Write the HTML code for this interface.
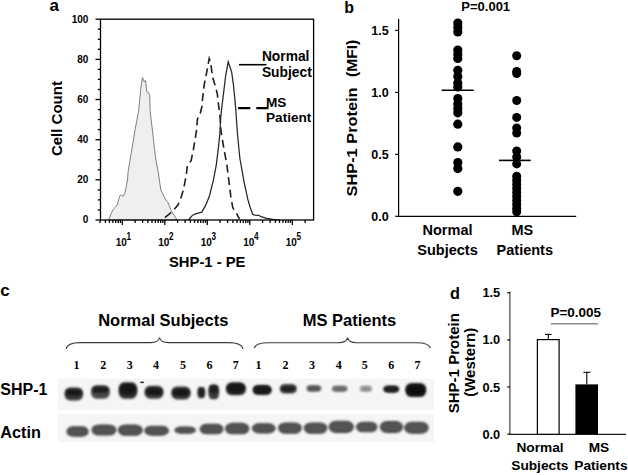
<!DOCTYPE html>
<html><head><meta charset="utf-8"><style>
html,body{margin:0;padding:0;background:#fff;}
svg{display:block;}
svg{font-family:"Liberation Sans", sans-serif;}
</style></head><body>
<svg width="628" height="475" viewBox="0 0 628 475">
<text x="49.6" y="10.8" font-size="17" font-weight="bold">a</text>
<path d="M108.5,220 L109.8,217.2 L111.5,212.7 L113.3,209.2 L115.5,207 L117.3,204.8 L118.6,199.5 L119.9,195.5 L121.3,195 L123,196.4 L124.8,193.3 L126.1,187.1 L127.5,180 L128.1,171.7 L131.6,150.9 L135,130.1 L138.5,111.6 L140.8,88.5 L142.4,77.3 L144.1,81.6 L145.5,80.5 L146.8,92 L148.8,92.8 L149.7,95.4 L150.2,111.6 L152.4,130.1 L154.7,150.9 L156.2,162 L158.2,171.7 L160.8,190 L165.3,199 L168,202.6 L171.6,211.6 L177.2,220 Z" fill="#efefef" stroke="#808080" stroke-width="1"/>
<path d="M165,217.6 L166,216.7 L169.8,213.6 L175.2,208.3 L178.2,204.5 L181.2,197 L183.5,189.4 L185,181.8 L186.5,173.5 L187.3,165.9 L191.1,160.6 L193.3,150 L196.6,130 L197.4,119 L199.6,115.7 L201.8,107.3 L202.4,100.5 L204.1,85.4 L206.8,71.9 L209.2,58.4 L210.5,61.8 L211.9,71.9 L213,78.6 L215.6,87 L217.3,93.8 L218.6,105.6 L219.8,114 L221.1,131.9 L224,149.3 L226.9,164.8 L228.8,180.2 L230.7,195.7 L232.7,207.3 L234.6,211.2 L237,214.2 L238.2,216.7 L239.5,219" fill="none" stroke="#1e1e1e" stroke-width="1.6" stroke-dasharray="8,4.6"/>
<path d="M188.5,220 L190.5,217.5 L192.6,215.2 L195,214.2 L198,213.2 L201.8,212.1 L205.6,205.4 L209.5,195.7 L213.4,180.2 L216.3,164.8 L218.2,149.3 L219.7,135.8 L220.6,119 L222,105.6 L223.7,92.1 L225.7,75.3 L228.2,61.8 L229.9,66.8 L231.6,71.9 L233.3,83.7 L235,100.5 L235.8,110 L237.5,134.2 L239.9,158.5 L244.2,182.7 L247.9,199.7 L250.2,207.5 L252.7,214.2 L254.6,215.1 L258.5,215.3 L261,216.6 L266.8,218.4 L273,219.3 L280,220" fill="none" stroke="#262626" stroke-width="1.25"/>
<g stroke="#000" stroke-width="1.3" fill="none">
<rect x="100.5" y="19.2" width="213.1" height="200.8"/>
<line x1="95.5" y1="220.0" x2="100.5" y2="220.0"/>
<line x1="97.8" y1="210.0" x2="100.5" y2="210.0"/>
<line x1="97.8" y1="199.9" x2="100.5" y2="199.9"/>
<line x1="97.8" y1="189.9" x2="100.5" y2="189.9"/>
<line x1="95.5" y1="179.8" x2="100.5" y2="179.8"/>
<line x1="97.8" y1="169.8" x2="100.5" y2="169.8"/>
<line x1="97.8" y1="159.8" x2="100.5" y2="159.8"/>
<line x1="97.8" y1="149.7" x2="100.5" y2="149.7"/>
<line x1="95.5" y1="139.7" x2="100.5" y2="139.7"/>
<line x1="97.8" y1="129.6" x2="100.5" y2="129.6"/>
<line x1="97.8" y1="119.6" x2="100.5" y2="119.6"/>
<line x1="97.8" y1="109.6" x2="100.5" y2="109.6"/>
<line x1="95.5" y1="99.5" x2="100.5" y2="99.5"/>
<line x1="97.8" y1="89.5" x2="100.5" y2="89.5"/>
<line x1="97.8" y1="79.4" x2="100.5" y2="79.4"/>
<line x1="97.8" y1="69.4" x2="100.5" y2="69.4"/>
<line x1="95.5" y1="59.4" x2="100.5" y2="59.4"/>
<line x1="97.8" y1="49.3" x2="100.5" y2="49.3"/>
<line x1="97.8" y1="39.3" x2="100.5" y2="39.3"/>
<line x1="97.8" y1="29.2" x2="100.5" y2="29.2"/>
<line x1="95.5" y1="19.2" x2="100.5" y2="19.2"/>
<line x1="100.1" y1="220" x2="100.1" y2="222.9"/>
<line x1="105.4" y1="220" x2="105.4" y2="222.9"/>
<line x1="109.5" y1="220" x2="109.5" y2="222.9"/>
<line x1="112.9" y1="220" x2="112.9" y2="222.9"/>
<line x1="115.7" y1="220" x2="115.7" y2="222.9"/>
<line x1="118.2" y1="220" x2="118.2" y2="222.9"/>
<line x1="120.4" y1="220" x2="120.4" y2="222.9"/>
<line x1="122.3" y1="220" x2="122.3" y2="225"/>
<line x1="135.1" y1="220" x2="135.1" y2="222.9"/>
<line x1="142.6" y1="220" x2="142.6" y2="222.9"/>
<line x1="147.9" y1="220" x2="147.9" y2="222.9"/>
<line x1="152.0" y1="220" x2="152.0" y2="222.9"/>
<line x1="155.4" y1="220" x2="155.4" y2="222.9"/>
<line x1="158.2" y1="220" x2="158.2" y2="222.9"/>
<line x1="160.7" y1="220" x2="160.7" y2="222.9"/>
<line x1="162.9" y1="220" x2="162.9" y2="222.9"/>
<line x1="164.8" y1="220" x2="164.8" y2="225"/>
<line x1="177.6" y1="220" x2="177.6" y2="222.9"/>
<line x1="185.1" y1="220" x2="185.1" y2="222.9"/>
<line x1="190.4" y1="220" x2="190.4" y2="222.9"/>
<line x1="194.5" y1="220" x2="194.5" y2="222.9"/>
<line x1="197.9" y1="220" x2="197.9" y2="222.9"/>
<line x1="200.7" y1="220" x2="200.7" y2="222.9"/>
<line x1="203.2" y1="220" x2="203.2" y2="222.9"/>
<line x1="205.4" y1="220" x2="205.4" y2="222.9"/>
<line x1="207.3" y1="220" x2="207.3" y2="225"/>
<line x1="220.1" y1="220" x2="220.1" y2="222.9"/>
<line x1="227.6" y1="220" x2="227.6" y2="222.9"/>
<line x1="232.9" y1="220" x2="232.9" y2="222.9"/>
<line x1="237.0" y1="220" x2="237.0" y2="222.9"/>
<line x1="240.4" y1="220" x2="240.4" y2="222.9"/>
<line x1="243.2" y1="220" x2="243.2" y2="222.9"/>
<line x1="245.7" y1="220" x2="245.7" y2="222.9"/>
<line x1="247.9" y1="220" x2="247.9" y2="222.9"/>
<line x1="249.8" y1="220" x2="249.8" y2="225"/>
<line x1="262.6" y1="220" x2="262.6" y2="222.9"/>
<line x1="270.1" y1="220" x2="270.1" y2="222.9"/>
<line x1="275.4" y1="220" x2="275.4" y2="222.9"/>
<line x1="279.5" y1="220" x2="279.5" y2="222.9"/>
<line x1="282.9" y1="220" x2="282.9" y2="222.9"/>
<line x1="285.7" y1="220" x2="285.7" y2="222.9"/>
<line x1="288.2" y1="220" x2="288.2" y2="222.9"/>
<line x1="290.4" y1="220" x2="290.4" y2="222.9"/>
<line x1="292.3" y1="220" x2="292.3" y2="225"/>
<line x1="305.1" y1="220" x2="305.1" y2="222.9"/>
</g>
<text x="88.4" y="223.3" font-size="10" font-weight="bold" text-anchor="end">0</text>
<text x="88.4" y="183.1" font-size="10" font-weight="bold" text-anchor="end">20</text>
<text x="88.4" y="143.0" font-size="10" font-weight="bold" text-anchor="end">40</text>
<text x="88.4" y="102.8" font-size="10" font-weight="bold" text-anchor="end">60</text>
<text x="88.4" y="62.7" font-size="10" font-weight="bold" text-anchor="end">80</text>
<text x="88.4" y="22.5" font-size="10" font-weight="bold" text-anchor="end">100</text>
<text x="115.8" y="245.7" font-size="10" font-weight="bold">10</text>
<text transform="translate(126.6,239.6) scale(0.82,1)" font-size="10" font-weight="bold">1</text>
<text x="158.3" y="245.7" font-size="10" font-weight="bold">10</text>
<text transform="translate(169.1,239.6) scale(0.82,1)" font-size="10" font-weight="bold">2</text>
<text x="200.8" y="245.7" font-size="10" font-weight="bold">10</text>
<text transform="translate(211.6,239.6) scale(0.82,1)" font-size="10" font-weight="bold">3</text>
<text x="243.3" y="245.7" font-size="10" font-weight="bold">10</text>
<text transform="translate(254.1,239.6) scale(0.82,1)" font-size="10" font-weight="bold">4</text>
<text x="285.8" y="245.7" font-size="10" font-weight="bold">10</text>
<text transform="translate(296.6,239.6) scale(0.82,1)" font-size="10" font-weight="bold">5</text>
<text x="207.2" y="267.2" font-size="14.8" font-weight="bold" text-anchor="middle">SHP-1 - PE</text>
<text transform="translate(61.8,118.6) rotate(-90)" font-size="15" font-weight="bold" text-anchor="middle">Cell Count</text>
<line x1="239" y1="64.7" x2="266.5" y2="64.7" stroke="#000" stroke-width="1.6"/>
<line x1="238.1" y1="108.1" x2="268.6" y2="108.1" stroke="#000" stroke-width="2.2" stroke-dasharray="12.2,6"/>
<text x="261.9" y="61.4" font-size="13.8" font-weight="bold">Normal</text>
<text x="261.9" y="76.6" font-size="13.8" font-weight="bold">Subject</text>
<text x="266" y="106.7" font-size="13.6" font-weight="bold">MS</text>
<text x="266" y="122.4" font-size="13.6" font-weight="bold">Patient</text>
<text x="344.3" y="13.4" font-size="16" font-weight="bold">b</text>
<text x="485.7" y="11.2" font-size="13" font-weight="bold" text-anchor="middle">P=0.001</text>
<g stroke="#000" stroke-width="1.2">
<line x1="398.6" y1="19" x2="398.6" y2="216.3"/>
<line x1="398" y1="216.4" x2="576.2" y2="216.4"/>
<line x1="395.2" y1="216.3" x2="398.6" y2="216.3"/>
<line x1="395.2" y1="154.4" x2="398.6" y2="154.4"/>
<line x1="395.2" y1="92.4" x2="398.6" y2="92.4"/>
<line x1="395.2" y1="30.4" x2="398.6" y2="30.4"/>
</g>
<text x="388.6" y="220.9" font-size="12.5" font-weight="bold" text-anchor="end">0.0</text>
<text x="388.6" y="159.0" font-size="12.5" font-weight="bold" text-anchor="end">0.5</text>
<text x="388.6" y="97.0" font-size="12.5" font-weight="bold" text-anchor="end">1.0</text>
<text x="388.6" y="35.0" font-size="12.5" font-weight="bold" text-anchor="end">1.5</text>
<text transform="translate(356.6,196.4) rotate(-90) scale(1.09,1)" font-size="15" font-weight="bold">SHP-1 Protein</text>
<text transform="translate(356.6,77) rotate(-90) scale(1.04,1)" font-size="15" font-weight="bold">(MFI)</text>
<circle cx="457.8" cy="23" r="4.6"/>
<circle cx="457.8" cy="27.5" r="4.6"/>
<circle cx="457.8" cy="32" r="4.6"/>
<circle cx="457.8" cy="50" r="4.6"/>
<circle cx="457.8" cy="54.5" r="4.6"/>
<circle cx="457.8" cy="58.5" r="4.6"/>
<circle cx="457.8" cy="70.3" r="4.6"/>
<circle cx="457.8" cy="76.5" r="4.6"/>
<circle cx="457.8" cy="83" r="4.6"/>
<circle cx="457.8" cy="87" r="4.6"/>
<circle cx="457.8" cy="98.5" r="4.6"/>
<circle cx="457.8" cy="104" r="4.6"/>
<circle cx="457.8" cy="108.5" r="4.6"/>
<circle cx="457.8" cy="112.8" r="4.6"/>
<circle cx="457.8" cy="124.2" r="4.6"/>
<circle cx="457.8" cy="146.9" r="4.6"/>
<circle cx="457.8" cy="162.6" r="4.6"/>
<circle cx="457.8" cy="168.6" r="4.6"/>
<circle cx="457.8" cy="191.3" r="4.6"/>
<circle cx="516.7" cy="55.7" r="4.5"/>
<circle cx="516.7" cy="71.5" r="4.5"/>
<circle cx="516.7" cy="73.5" r="4.5"/>
<circle cx="516.7" cy="100.5" r="4.5"/>
<circle cx="516.7" cy="117.4" r="4.5"/>
<circle cx="516.7" cy="128" r="4.5"/>
<circle cx="516.7" cy="133" r="4.5"/>
<circle cx="516.7" cy="151" r="4.5"/>
<circle cx="516.7" cy="157" r="4.5"/>
<circle cx="516.7" cy="163.9" r="4.5"/>
<circle cx="516.7" cy="176.3" r="4.5"/>
<circle cx="516.7" cy="180.3" r="4.5"/>
<circle cx="516.7" cy="184.3" r="4.5"/>
<circle cx="516.7" cy="188.3" r="4.5"/>
<circle cx="516.7" cy="192.3" r="4.5"/>
<circle cx="516.7" cy="196.3" r="4.5"/>
<circle cx="516.7" cy="200.3" r="4.5"/>
<circle cx="516.7" cy="204.3" r="4.5"/>
<circle cx="516.7" cy="208.3" r="4.5"/>
<circle cx="516.7" cy="211.7" r="4.5"/>
<line x1="441.6" y1="90.3" x2="473.8" y2="90.3" stroke="#000" stroke-width="1.6"/>
<line x1="499" y1="160.4" x2="530.7" y2="160.4" stroke="#000" stroke-width="1.6"/>
<text x="447.5" y="234.8" font-size="14.5" font-weight="bold" text-anchor="middle">Normal</text>
<text x="447.5" y="254.5" font-size="14.5" font-weight="bold" text-anchor="middle">Subjects</text>
<text x="522.3" y="235" font-size="14.5" font-weight="bold" text-anchor="middle">MS</text>
<text x="524.8" y="254.5" font-size="14.5" font-weight="bold" text-anchor="middle">Patients</text>
<text x="0.3" y="296.2" font-size="17" font-weight="bold">c</text>
<text x="163.3" y="325.5" font-size="16.5" font-weight="bold" text-anchor="middle">Normal Subjects</text>
<text x="349.5" y="325.5" font-size="16.5" font-weight="bold" text-anchor="middle">MS Patients</text>
<path d="M66.1,349 C67.0,344.5 72.1,342.6 80.1,342.6 L150.5,342.6 C156.0,342.6 158.7,341.1 159.5,337.5 C160.3,341.1 163.0,342.6 168.5,342.6 L229,342.6 C237,342.6 242.1,344.5 243,349" fill="none" stroke="#3a3a3a" stroke-width="1.15"/>
<path d="M254.3,348 C255.20000000000002,344.6 260.3,342.70000000000005 268.3,342.70000000000005 L338.6,342.70000000000005 C344.1,342.70000000000005 346.8,341.20000000000005 347.6,337.6 C348.40000000000003,341.20000000000005 351.1,342.70000000000005 356.6,342.70000000000005 L416.4,342.70000000000005 C424.4,342.70000000000005 429.5,344.6 430.4,348" fill="none" stroke="#3a3a3a" stroke-width="1.15"/>
<text x="76.4" y="368.5" font-family='"Liberation Serif", serif' font-size="12" font-weight="bold" text-anchor="middle">1</text>
<text x="103.3" y="368.5" font-family='"Liberation Serif", serif' font-size="12" font-weight="bold" text-anchor="middle">2</text>
<text x="129.8" y="368.5" font-family='"Liberation Serif", serif' font-size="12" font-weight="bold" text-anchor="middle">3</text>
<text x="156" y="368.5" font-family='"Liberation Serif", serif' font-size="12" font-weight="bold" text-anchor="middle">4</text>
<text x="182.9" y="368.5" font-family='"Liberation Serif", serif' font-size="12" font-weight="bold" text-anchor="middle">5</text>
<text x="209.4" y="368.5" font-family='"Liberation Serif", serif' font-size="12" font-weight="bold" text-anchor="middle">6</text>
<text x="235.7" y="368.5" font-family='"Liberation Serif", serif' font-size="12" font-weight="bold" text-anchor="middle">7</text>
<text x="258.6" y="368.5" font-family='"Liberation Serif", serif' font-size="12" font-weight="bold" text-anchor="middle">1</text>
<text x="285.4" y="368.5" font-family='"Liberation Serif", serif' font-size="12" font-weight="bold" text-anchor="middle">2</text>
<text x="311.9" y="368.5" font-family='"Liberation Serif", serif' font-size="12" font-weight="bold" text-anchor="middle">3</text>
<text x="338.7" y="368.5" font-family='"Liberation Serif", serif' font-size="12" font-weight="bold" text-anchor="middle">4</text>
<text x="364.7" y="368.5" font-family='"Liberation Serif", serif' font-size="12" font-weight="bold" text-anchor="middle">5</text>
<text x="391.2" y="368.5" font-family='"Liberation Serif", serif' font-size="12" font-weight="bold" text-anchor="middle">6</text>
<text x="417.5" y="368.5" font-family='"Liberation Serif", serif' font-size="12" font-weight="bold" text-anchor="middle">7</text>
<text x="0.3" y="395.4" font-size="16" font-weight="bold">SHP-1</text>
<text x="0.3" y="438.4" font-size="16.3" font-weight="bold">Actin</text>
<rect x="58" y="378.5" width="376" height="31.5" fill="#f5f5f5"/>
<rect x="58" y="413.5" width="376" height="28.5" fill="#f5f5f5"/>
<defs><filter id="bl" x="-30%" y="-50%" width="160%" height="200%"><feGaussianBlur stdDeviation="1.3"/></filter></defs>
<defs><filter id="bl2" x="-30%" y="-60%" width="160%" height="220%"><feGaussianBlur stdDeviation="0.8"/></filter><linearGradient id="gd" x1="0" y1="0" x2="0" y2="1"><stop offset="0" stop-color="#1a1a1a"/><stop offset="0.5" stop-color="#202020"/><stop offset="1" stop-color="#777"/></linearGradient><linearGradient id="gd2" x1="0" y1="0" x2="0" y2="1"><stop offset="0" stop-color="#1a1a1a"/><stop offset="0.45" stop-color="#1e1e1e"/><stop offset="1" stop-color="#8a8a8a"/></linearGradient></defs>
<defs><filter id="bh" x="-40%" y="-80%" width="180%" height="260%"><feGaussianBlur stdDeviation="1.1"/></filter><filter id="bc" x="-40%" y="-80%" width="180%" height="260%"><feGaussianBlur stdDeviation="1.0"/></filter></defs>
<g filter="url(#bh)">
<rect x="64.5" y="387.6" width="18.6" height="12.8" rx="5.6" ry="5.9" fill="#3a3a3a"/>
<rect x="91.0" y="385.3" width="18.9" height="13.5" rx="5.7" ry="6.2" fill="#4a4a4a"/>
<rect x="118.5" y="382.2" width="18.9" height="16.6" rx="5.7" ry="7.6" fill="#333"/>
<rect x="144.5" y="385.7" width="19.0" height="13.0" rx="5.8" ry="5.9" fill="#3a3a3a"/>
<rect x="171.3" y="386.6" width="19.4" height="12.9" rx="5.9" ry="5.9" fill="#3a3a3a"/>
<rect x="197.4" y="387.1" width="7.8" height="11.1" rx="2.4" ry="5.1" fill="#333"/>
<rect x="208.3" y="384.4" width="10.9" height="14.8" rx="3.3" ry="6.8" fill="#3a3a3a"/>
<rect x="225.9" y="382.2" width="20.0" height="13.0" rx="6.1" ry="5.9" fill="#2e2e2e"/>
<rect x="252.7" y="384.9" width="19.0" height="10.1" rx="5.8" ry="4.6" fill="#262626"/>
<rect x="279.8" y="384.1" width="16.9" height="9.3" rx="5.1" ry="4.3" fill="#444"/>
<rect x="306.4" y="384.9" width="14.9" height="6.9" rx="4.5" ry="3.2" fill="#777"/>
<rect x="331.8" y="385.4" width="15.8" height="6.5" rx="4.8" ry="3.0" fill="#888"/>
<rect x="359.7" y="385.4" width="12.4" height="6.5" rx="3.8" ry="3.0" fill="#aaa"/>
<rect x="383.3" y="385.4" width="15.9" height="7.4" rx="4.8" ry="3.4" fill="#333"/>
<rect x="405.3" y="382.9" width="20.9" height="14.1" rx="6.3" ry="6.4" fill="#222"/>
</g><g filter="url(#bc)">
<rect x="66.0" y="389.4" width="15.6" height="6.1" rx="4.7" ry="2.7" fill="#161616"/>
<rect x="92.5" y="386.8" width="15.9" height="5.9" rx="4.8" ry="2.7" fill="#1a1a1a"/>
<rect x="120.0" y="384.1" width="15.9" height="10.6" rx="4.8" ry="4.8" fill="#161616"/>
<rect x="146.0" y="388.2" width="16.0" height="6.9" rx="4.8" ry="3.1" fill="#161616"/>
<rect x="172.8" y="389.1" width="16.4" height="6.8" rx="4.9" ry="3.1" fill="#161616"/>
<rect x="198.9" y="389.3" width="4.8" height="6.2" rx="2.0" ry="2.8" fill="#1a1a1a"/>
<rect x="209.8" y="385.8" width="7.9" height="7.5" rx="2.8" ry="3.4" fill="#1a1a1a"/>
<rect x="227.4" y="384.1" width="17.0" height="8.6" rx="5.0" ry="3.9" fill="#161616"/>
<rect x="254.2" y="386.3" width="16.0" height="6.7" rx="4.8" ry="3.0" fill="#121212"/>
<rect x="281.3" y="386.4" width="13.9" height="4.8" rx="4.3" ry="2.1" fill="#1e1e1e"/>
<rect x="307.9" y="386.6" width="11.9" height="3.9" rx="3.8" ry="1.8" fill="#505050"/>
<rect x="333.3" y="387.0" width="12.8" height="3.7" rx="4.0" ry="1.7" fill="#666"/>
<rect x="361.2" y="387.0" width="9.4" height="3.7" rx="3.1" ry="1.7" fill="#8a8a8a"/>
<rect x="384.8" y="386.8" width="12.9" height="4.6" rx="4.0" ry="2.1" fill="#1a1a1a"/>
<rect x="406.8" y="384.9" width="17.9" height="10.0" rx="5.3" ry="4.5" fill="#0c0c0c"/>
</g>
<ellipse cx="142.1" cy="382.3" rx="2.2" ry="0.9" fill="#333"/>
<g filter="url(#bl2)">
<rect x="67.0" y="426.9" width="21.1" height="9.2" rx="6.3" ry="4.6" fill="#525252" stroke="#3e3e3e" stroke-width="1.1"/>
<rect x="92.0" y="425.0" width="23.9" height="10.0" rx="7.2" ry="5.0" fill="#525252" stroke="#3e3e3e" stroke-width="1.1"/>
<rect x="118.4" y="425.0" width="23.8" height="10.3" rx="7.1" ry="5.2" fill="#525252" stroke="#3e3e3e" stroke-width="1.1"/>
<rect x="144.8" y="426.2" width="23.6" height="8.9" rx="7.1" ry="4.5" fill="#525252" stroke="#3e3e3e" stroke-width="1.1"/>
<rect x="175.0" y="427.1" width="20.3" height="6.1" rx="6.1" ry="3.1" fill="#525252" stroke="#3e3e3e" stroke-width="1.1"/>
<rect x="200.2" y="424.4" width="22.8" height="9.4" rx="6.8" ry="4.7" fill="#525252" stroke="#3e3e3e" stroke-width="1.1"/>
<rect x="225.6" y="423.4" width="23.2" height="10.4" rx="7.0" ry="5.2" fill="#525252" stroke="#3e3e3e" stroke-width="1.1"/>
<rect x="252.4" y="423.8" width="22.7" height="9.1" rx="6.8" ry="4.6" fill="#525252" stroke="#3e3e3e" stroke-width="1.1"/>
<rect x="278.6" y="423.0" width="22.7" height="10.2" rx="6.8" ry="5.1" fill="#525252" stroke="#3e3e3e" stroke-width="1.1"/>
<rect x="304.4" y="423.0" width="22.4" height="10.2" rx="6.7" ry="5.1" fill="#525252" stroke="#3e3e3e" stroke-width="1.1"/>
<rect x="329.1" y="421.3" width="24.3" height="11.1" rx="7.3" ry="5.6" fill="#525252" stroke="#3e3e3e" stroke-width="1.1"/>
<rect x="356.6" y="422.2" width="20.3" height="9.6" rx="6.1" ry="4.8" fill="#525252" stroke="#3e3e3e" stroke-width="1.1"/>
<rect x="380.3" y="421.6" width="22.2" height="10.8" rx="6.7" ry="5.4" fill="#525252" stroke="#3e3e3e" stroke-width="1.1"/>
<rect x="404.7" y="422.2" width="23.5" height="11.0" rx="7.0" ry="5.5" fill="#525252" stroke="#3e3e3e" stroke-width="1.1"/>
</g>
<text x="450" y="298.5" font-size="16.3" font-weight="bold">d</text>
<g stroke="#000" stroke-width="1.2">
<line x1="509.9" y1="291.5" x2="509.9" y2="434.3" stroke="#444"/>
<line x1="509.3" y1="434.3" x2="626" y2="434.3" stroke="#1a1a1a"/>
<line x1="507.3" y1="434.1" x2="509.9" y2="434.1"/>
<line x1="507.3" y1="387.0" x2="509.9" y2="387.0"/>
<line x1="507.3" y1="339.9" x2="509.9" y2="339.9"/>
<line x1="507.3" y1="292.8" x2="509.9" y2="292.8"/>
</g>
<text x="500.2" y="438.6" font-size="12.8" font-weight="bold" text-anchor="end">0.0</text>
<text x="500.2" y="391.5" font-size="12.8" font-weight="bold" text-anchor="end">0.5</text>
<text x="500.2" y="344.4" font-size="12.8" font-weight="bold" text-anchor="end">1.0</text>
<text x="500.2" y="297.3" font-size="12.8" font-weight="bold" text-anchor="end">1.5</text>
<text transform="translate(459.2,363.2) rotate(-90) scale(1.06,1)" font-size="14.2" font-weight="bold" text-anchor="middle">SHP-1 Protein</text>
<text transform="translate(475.2,362.3) rotate(-90) scale(1.06,1)" font-size="14.2" font-weight="bold" text-anchor="middle">(Western)</text>
<rect x="537.4" y="339.6" width="21.7" height="94.7" fill="#fff" stroke="#000" stroke-width="1.2"/>
<rect x="575.4" y="384.4" width="22.6" height="49.9" fill="#000"/>
<g stroke="#000" stroke-width="1.1"><line x1="548.3" y1="334.4" x2="548.3" y2="339"/><line x1="545" y1="334.4" x2="551.6" y2="334.4"/>
<line x1="586.8" y1="372.3" x2="586.8" y2="384.4"/><line x1="583.4" y1="372.3" x2="590.4" y2="372.3"/></g>
<line x1="550.8" y1="323.7" x2="598" y2="323.7" stroke="#8a8a8a" stroke-width="1.6"/>
<text x="575.8" y="317.2" font-size="13.5" font-weight="bold" text-anchor="middle">P=0.005</text>
<text x="540" y="452" font-size="13.7" font-weight="bold" text-anchor="middle">Normal</text>
<text x="539.8" y="469.7" font-size="13.7" font-weight="bold" text-anchor="middle">Subjects</text>
<text x="598.9" y="452" font-size="13.7" font-weight="bold" text-anchor="middle">MS</text>
<text x="600.9" y="469.7" font-size="13.7" font-weight="bold" text-anchor="middle">Patients</text>
</svg>
</body></html>
